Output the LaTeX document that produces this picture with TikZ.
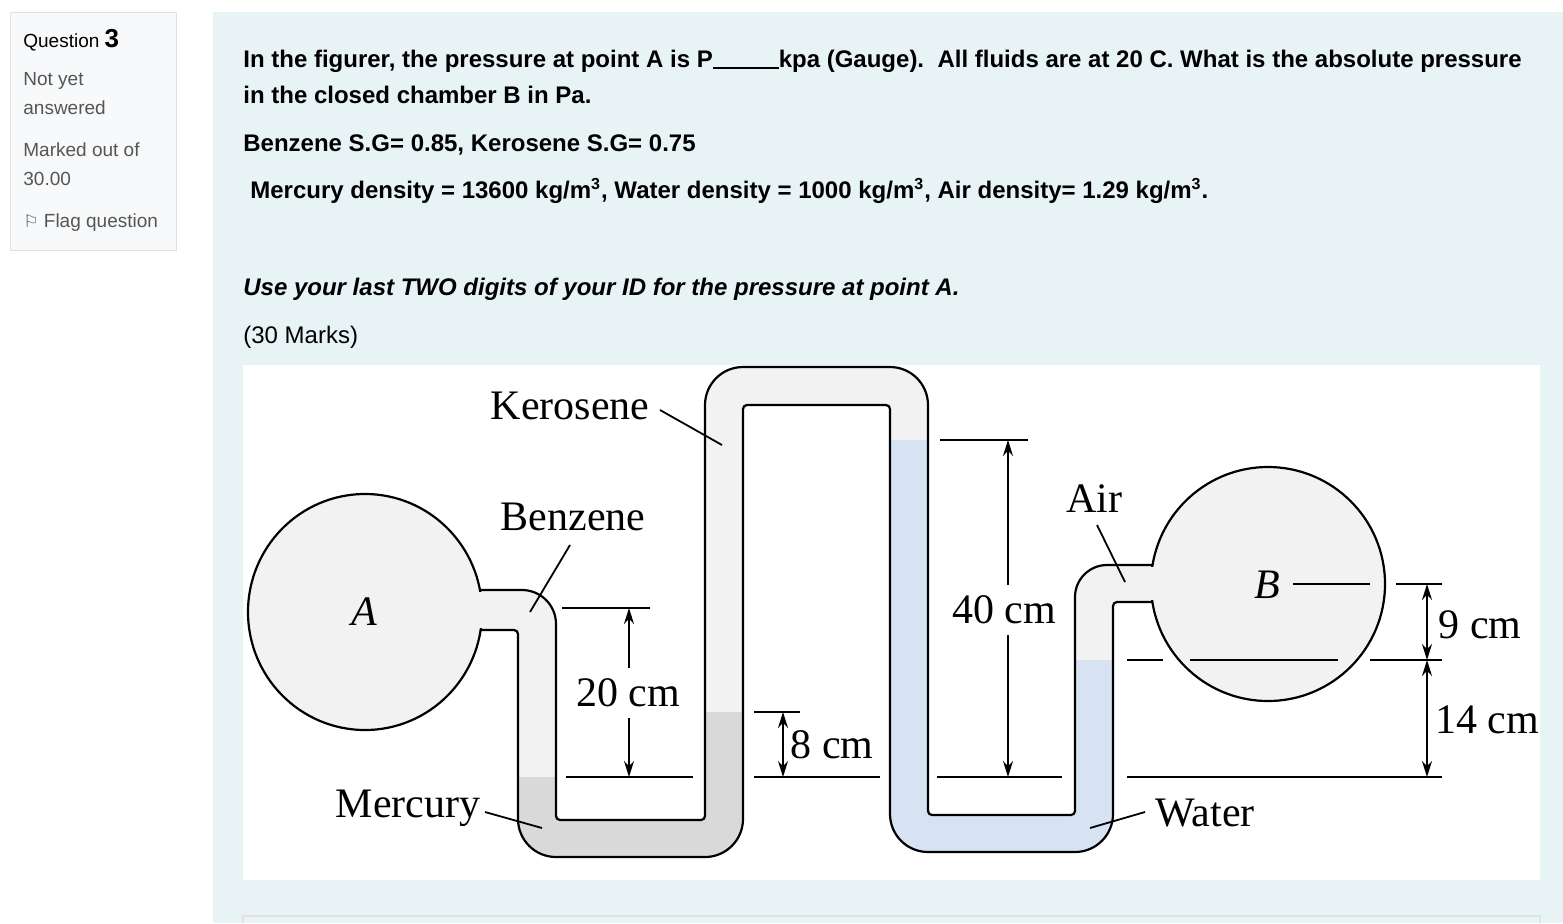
\documentclass[tikz,border=0pt]{standalone}
\usepackage{fontspec}
\setmainfont{Liberation Serif}
\setsansfont{Liberation Sans}
\newfontfamily\dejavu{DejaVu Sans}
\usetikzlibrary{arrows.meta}
\definecolor{panel}{HTML}{E7F3F5}
\definecolor{side}{HTML}{F8F9FA}
\definecolor{sidebd}{HTML}{DEE2E6}
\definecolor{tubeg}{HTML}{F2F2F2}
\definecolor{merc}{HTML}{D9D9D9}
\definecolor{wat}{HTML}{D7E3F2}
\definecolor{greytxt}{HTML}{555555}
\tikzset{
  qtext/.style={anchor=base west, inner sep=0pt, font=\sffamily\bfseries\fontsize{12}{14}\selectfont},
  stext/.style={anchor=base west, inner sep=0pt, text=greytxt, font=\sffamily\fontsize{9.5}{11}\selectfont},
  lab/.style={inner sep=0pt, font=\fontsize{21}{24}\selectfont},
  wall/.style={line width=1.1pt, line join=round},
  thin/.style={line width=0.9pt},
  dim/.style={line width=0.9pt, -{Stealth[length=8pt,width=5pt]}},
  ddim/.style={line width=0.9pt, {Stealth[length=8pt,width=5pt]}-{Stealth[length=8pt,width=5pt]}}
}
\begin{document}
\begin{tikzpicture}[x=0.5pt,y=-0.5pt]
\useasboundingbox (0,0) rectangle (1563,923);
\fill[white] (0,0) rectangle (1563,923);
% sidebar
\filldraw[fill=side, draw=sidebd, line width=0.5pt] (10,12) rectangle (176,250);
\node[anchor=base west, inner sep=0pt, font=\sffamily\fontsize{9.5}{11}\selectfont] (q) at (23,47) {Question \fontsize{13}{15}\selectfont\bfseries 3};
\node[stext] (s1) at (23,85) {Not yet};
\node[stext] (s2) at (23,114) {answered};
\node[stext] (s3) at (23,156) {Marked out of};
\node[stext] (s4) at (23,185) {30.00};
\node[stext] (s5) at (23,227) {{\dejavu\fontsize{8.5}{10}\selectfont ⚐} Flag question};
% main panel
\fill[panel] (213,12) rectangle (1563,923);
\node[qtext] (t1) at (243,67) {In the figurer, the pressure at point A is P\rule[-1pt]{33pt}{1pt}kpa (Gauge).\ \ All fluids are at 20 C. What is the absolute pressure};
\node[qtext] (t2) at (243,103) {in the closed chamber B in Pa.};
\node[qtext] (t3) at (243,151) {Benzene S.G= 0.85, Kerosene S.G= 0.75};
\node[qtext] (t4) at (250,198) {Mercury density = 13600 kg/m\textsuperscript{3}, Water density = 1000 kg/m\textsuperscript{3}, Air density= 1.29 kg/m\textsuperscript{3}.};
\node[qtext, font=\sffamily\bfseries\itshape\fontsize{12}{14}\selectfont] (t5) at (243,295) {Use your last TWO digits of your ID for the pressure at point A.};
\node[qtext, font=\sffamily\fontsize{12}{14}\selectfont] (t6) at (243,343) {(30 Marks)};
% figure area
\fill[white] (243,365) rectangle (1540,880);
\draw[sidebd, line width=0.8pt] (243,923) -- (243,916) -- (1540,916) -- (1540,923);
% tube band
\begin{scope}
\clip (480,590) [rounded corners=17pt] -- (556,590) [rounded corners=2pt] -- (556,820) -- (705,820) [rounded corners=19pt] -- (705,367) -- (928,367) [rounded corners=2pt] -- (928,815) -- (1075,815) [rounded corners=16pt] -- (1075,565) [sharp corners] -- (1152,565)
 -- (1152,602) [rounded corners=2pt] -- (1113,602) [rounded corners=19pt] -- (1113,852) -- (890,852) [rounded corners=2pt] -- (890,405) -- (743,405) [rounded corners=19pt] -- (743,857) -- (518,857) [rounded corners=2pt] -- (518,630) [sharp corners] -- (480,630) -- cycle;
\fill[tubeg] (470,350) rectangle (1160,870);
\fill[merc] (500,777) rectangle (560,870);
\fill[merc] (700,712) rectangle (750,870);
\fill[merc] (500,820) rectangle (750,870);
\fill[wat] (885,440) rectangle (935,870);
\fill[wat] (1070,660) rectangle (1120,870);
\fill[wat] (885,815) rectangle (1120,870);
\end{scope}
% chambers
\filldraw[fill=tubeg, wall] (365,612) ellipse [x radius=117, y radius=118];
\filldraw[fill=tubeg, wall] (1268,584) ellipse [x radius=117, y radius=117];
\fill[tubeg] (470,592) rectangle (492,628);
\fill[tubeg] (1140,567) rectangle (1162,600);
\draw[wall] (480,590) [rounded corners=17pt] -- (556,590) [rounded corners=2pt] -- (556,820) -- (705,820) [rounded corners=19pt] -- (705,367) -- (928,367) [rounded corners=2pt] -- (928,815) -- (1075,815) [rounded corners=16pt] -- (1075,565) [sharp corners] -- (1152,565);
\draw[wall] (480,630) [rounded corners=2pt] -- (518,630) [rounded corners=19pt] -- (518,857) -- (743,857) [rounded corners=2pt] -- (743,405) -- (890,405) [rounded corners=19pt] -- (890,852) -- (1113,852) [rounded corners=2pt] -- (1113,602) [sharp corners] -- (1152,602);
% labels
\node[lab] (ker) at (570,406) {Kerosene};
\node[lab] (ben) at (573,517) {Benzene};
\node[lab, font=\itshape\fontsize{21}{24}\selectfont] (A) at (364,612) {A};
\node[lab] (mer) at (408,808) {Mercury};
\node[lab] (air) at (1094,499) {Air};
\node[lab, font=\itshape\fontsize{21}{24}\selectfont] (B) at (1267,585) {B};
\node[lab] (wat) at (1205,813) {Water};
\coordinate (kerp) at (722,445);
\coordinate (benp) at (530,612);
\coordinate (merp) at (542,828);
\coordinate (airp) at (1125,582);
\coordinate (watp) at (1090,828);
\draw[thin] (660,410) -- (kerp);
\draw[thin] (570,545) -- (benp);
\draw[thin] (485,812) -- (merp);
\draw[thin] (1097,525) -- (airp);
\draw[thin] (1145,812) -- (watp);
% dimensions
\node[lab] (d20) at (628,693) {20 cm};
\node[lab] (d8) at (832,745) {8 cm};
\node[lab] (d40) at (1004,610) {40 cm};
\node[lab] (d9) at (1480,625) {9 cm};
\node[lab] (d14) at (1487,720) {14 cm};
\draw[thin] (562,608) -- (650,608);
\draw[thin] (566,777) -- (693,777);
\coordinate (a20t) at (629,608);
\coordinate (a20b) at (629,777);
\draw[dim] (629,668) -- (a20t);
\draw[dim] (629,718) -- (a20b);
\draw[thin] (754,712) -- (800,712);
\draw[thin] (754,777) -- (880,777);
\coordinate (a8t) at (783,712);
\coordinate (a8b) at (783,777);
\draw[ddim] (a8t) -- (a8b);
\draw[thin] (940,440) -- (1028,440);
\draw[thin] (937,777) -- (1062,777);
\coordinate (a40t) at (1008,440);
\coordinate (a40b) at (1008,777);
\draw[dim] (1008,585) -- (a40t);
\draw[dim] (1008,635) -- (a40b);
\draw[thin] (1127,660) -- (1163,660);
\draw[thin] (1190,660) -- (1338,660);
\draw[thin] (1370,660) -- (1442,660);
\draw[thin] (1293,584) -- (1370,584);
\draw[thin] (1396,584) -- (1442,584);
\draw[thin] (1127,777) -- (1442,777);
\coordinate (a9t) at (1427,584);
\coordinate (a9b) at (1427,660);
\coordinate (a14b) at (1427,777);
\draw[ddim] (a9t) -- (a9b);
\draw[ddim] (a9b) -- (a14b);
\end{tikzpicture}
\end{document}
